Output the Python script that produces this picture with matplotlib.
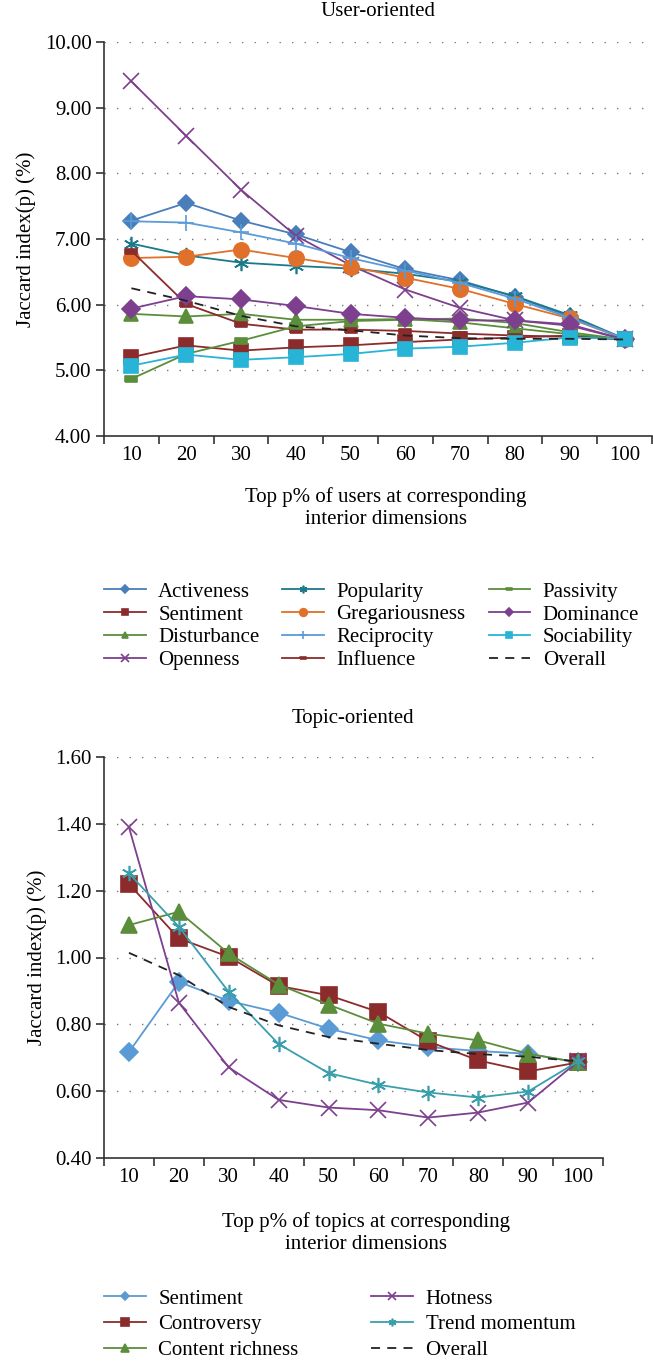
import matplotlib
matplotlib.use("Agg")
import matplotlib.pyplot as plt
import numpy as np

plt.rcParams['font.family'] = ['Liberation Serif', 'DejaVu Serif']
plt.rcParams['font.size'] = 15

# ---- data: user-oriented ----
p_labels = ["10", "20", "30", "40", "50", "60", "70", "80", "90", "100"]

activeness     = [7.28, 7.55, 7.28, 7.07, 6.80, 6.54, 6.37, 6.12, 5.82, 5.48]
sentiment_u    = [5.20, 5.38, 5.30, 5.35, 5.38, 5.43, 5.47, 5.50, 5.53, 5.47]
disturbance    = [5.86, 5.82, 5.86, 5.77, 5.77, 5.78, 5.73, 5.64, 5.55, 5.47]
openness       = [9.40, 8.57, 7.75, 7.05, 6.60, 6.23, 5.95, 5.76, 5.68, 5.47]
popularity     = [6.93, 6.75, 6.64, 6.59, 6.55, 6.47, 6.35, 6.13, 5.84, 5.48]
gregariousness = [6.71, 6.73, 6.84, 6.71, 6.58, 6.41, 6.24, 6.01, 5.79, 5.48]
reciprocity    = [7.27, 7.25, 7.10, 6.93, 6.71, 6.52, 6.33, 6.09, 5.80, 5.48]
influence      = [6.82, 6.01, 5.71, 5.62, 5.62, 5.60, 5.56, 5.53, 5.51, 5.47]
passivity      = [4.87, 5.25, 5.45, 5.67, 5.75, 5.77, 5.79, 5.72, 5.58, 5.47]
dominance      = [5.94, 6.13, 6.08, 5.98, 5.86, 5.80, 5.76, 5.76, 5.70, 5.47]
sociability    = [5.07, 5.24, 5.16, 5.20, 5.25, 5.33, 5.36, 5.42, 5.50, 5.48]
overall_u      = [6.25, 6.06, 5.83, 5.67, 5.61, 5.53, 5.49, 5.48, 5.48, 5.47]

# ---- data: topic-oriented ----
sentiment_t  = [0.717, 0.927, 0.870, 0.835, 0.787, 0.752, 0.732, 0.720, 0.712, 0.686]
controversy  = [1.220, 1.057, 1.002, 0.915, 0.887, 0.837, 0.749, 0.692, 0.659, 0.686]
richness     = [1.097, 1.137, 1.012, 0.919, 0.859, 0.802, 0.772, 0.752, 0.712, 0.686]
hotness      = [1.390, 0.865, 0.671, 0.574, 0.551, 0.543, 0.521, 0.536, 0.566, 0.689]
trend        = [1.252, 1.092, 0.897, 0.741, 0.654, 0.619, 0.596, 0.581, 0.599, 0.689]
overall_t    = [1.014, 0.947, 0.852, 0.797, 0.762, 0.742, 0.723, 0.711, 0.703, 0.689]

dash = [(-1, -0.45), (1, -0.45), (1, 0.45), (-1, 0.45), (-1, -0.45)]
star = (6, 2, 0)

user_series = [
    ("Activeness", activeness, "#4a7ebb", "D", 8),
    ("Sentiment", sentiment_u, "#8b2b2b", "s", 10),
    ("Disturbance", disturbance, "#5b8e3b", "^", 10),
    ("Openness", openness, "#7d3f8e", "x", 11),
    ("Popularity", popularity, "#1a7a8a", star, 11),
    ("Gregariousness", gregariousness, "#e0702a", "o", 11),
    ("Reciprocity", reciprocity, "#5a9bd8", "+", 12),
    ("Influence", influence, "#8b2b2b", dash, 8),
    ("Passivity", passivity, "#5b8e3b", dash, 9),
    ("Dominance", dominance, "#7d3f8e", "D", 9),
    ("Sociability", sociability, "#27b4d6", "s", 10),
]

topic_series = [
    ("Sentiment", sentiment_t, "#5b9bd5", "D", 9),
    ("Controversy", controversy, "#8b2b2b", "s", 11),
    ("Content richness", richness, "#5b8e3b", "^", 11),
    ("Hotness", hotness, "#7d3f8e", "x", 11),
    ("Trend momentum", trend, "#3a9fad", star, 11),
]

W, H = 653, 1366


def style_axes(ax, yticks):
    x = np.arange(len(p_labels))
    ax.set_xlim(-0.5, len(p_labels) - 0.5)
    ax.set_xticks(x)
    ax.set_xticklabels(p_labels)
    ax.tick_params(axis='x', which='major', length=0, pad=7)
    ax.set_xticks(np.arange(len(p_labels) + 1) - 0.5, minor=True)
    ax.tick_params(axis='x', which='minor', length=6, width=1.2, color='#333333')
    ax.set_yticks(yticks)
    ax.set_ylim(yticks[0], yticks[-1])
    ax.yaxis.set_major_formatter(matplotlib.ticker.FormatStrFormatter('%.2f'))
    ax.tick_params(axis='y', length=6, width=1.2, color='#333333', pad=3)
    ax.spines['top'].set_visible(False)
    ax.spines['right'].set_visible(False)
    for s in ['left', 'bottom']:
        ax.spines[s].set_color('#333333')
        ax.spines[s].set_linewidth(1.2)
    for yv in yticks[1:]:
        ax.axhline(yv, color='#777777', linestyle=(0, (1, 8)), linewidth=1.0, zorder=0)
    ax.set_ylabel("Jaccard index(p) (%)", labelpad=6)


fig = plt.figure(figsize=(W / 100, H / 100), dpi=100)
x = np.arange(len(p_labels))

# ---- user-oriented ----
ax1 = fig.add_axes([104 / W, 1 - 436 / H, 548 / W, 394 / H])
for name, vals, col, mk, ms in user_series:
    ax1.plot(x, vals, color=col, marker=mk, markersize=ms, linewidth=1.3,
             markeredgecolor=col, markeredgewidth=1.2, label=name)
ax1.plot(x, overall_u, color='#222222', linestyle=(0, (5, 4)), linewidth=1.3, label="Overall")
style_axes(ax1, [4.0, 5.0, 6.0, 7.0, 8.0, 9.0, 10.0])
fig.text(378 / W, 1 - 11 / H, "User-oriented", ha='center', va='center')
fig.text(386 / W, 1 - 508 / H, "Top p% of users at corresponding\ninterior dimensions",
         ha='center', va='center', linespacing=1.25)

fig.legend(*ax1.get_legend_handles_labels(),
           loc='upper left', bbox_to_anchor=(104 / W, 1 - 582 / H), ncol=3, frameon=False,
           markerscale=0.5, handlelength=2.0, handletextpad=0.6, columnspacing=1.1,
           labelspacing=0.16, borderaxespad=0, borderpad=0)

# ---- topic-oriented ----
ax2 = fig.add_axes([104 / W, 1 - 1158 / H, 499 / W, 401 / H])
for name, vals, col, mk, ms in topic_series:
    ax2.plot(x, vals, color=col, marker=mk, markersize=ms, linewidth=1.3,
             markeredgecolor=col, markeredgewidth=1.2, label=name)
ax2.plot(x, overall_t, color='#222222', linestyle=(0, (5, 4)), linewidth=1.3, label="Overall")
style_axes(ax2, [0.4, 0.6, 0.8, 1.0, 1.2, 1.4, 1.6])
fig.text(353 / W, 1 - 718 / H, "Topic-oriented", ha='center', va='center')
fig.text(366 / W, 1 - 1233 / H, "Top p% of topics at corresponding\ninterior dimensions",
         ha='center', va='center', linespacing=1.25)

fig.legend(*ax2.get_legend_handles_labels(),
           loc='upper left', bbox_to_anchor=(104 / W, 1 - 1289 / H), ncol=2, frameon=False,
           markerscale=0.5, handlelength=2.0, handletextpad=0.6, columnspacing=3.5,
           labelspacing=0.3, borderaxespad=0, borderpad=0)

fig.savefig("out.png", dpi=100)
